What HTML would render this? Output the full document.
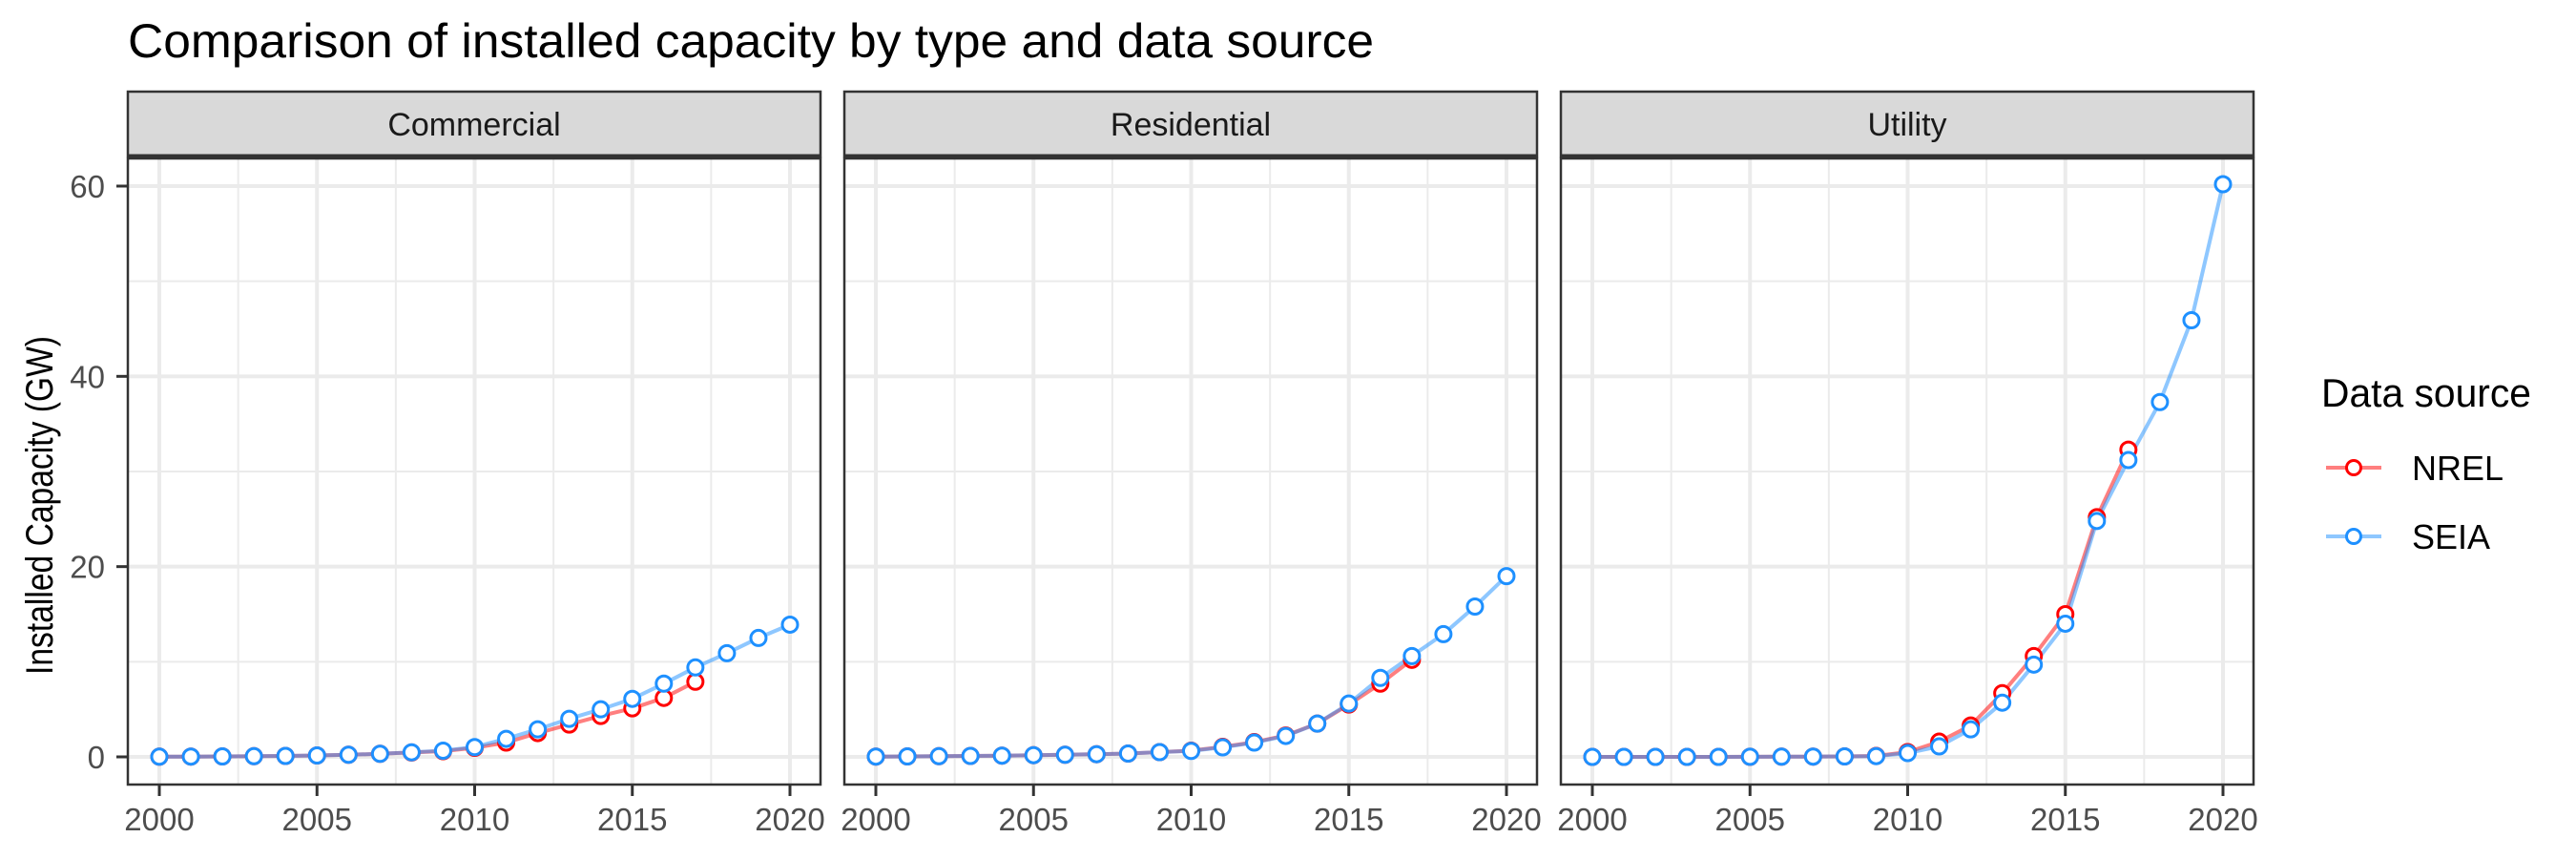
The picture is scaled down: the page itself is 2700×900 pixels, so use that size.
<!DOCTYPE html>
<html><head><meta charset="utf-8"><style>
html,body{margin:0;padding:0;background:#fff;}
svg{display:block;font-family:"Liberation Sans",sans-serif;}
</style></head><body>
<svg id="chart" width="2700" height="900" viewBox="0 0 2700 900" xmlns="http://www.w3.org/2000/svg">
<text x="134" y="60" font-size="50" fill="#000" textLength="1306" lengthAdjust="spacingAndGlyphs">Comparison of installed capacity by type and data source</text>
<text transform="translate(55,707) rotate(-90)" font-size="40" fill="#000" textLength="355" lengthAdjust="spacingAndGlyphs">Installed Capacity (GW)</text>
<g id="panels"></g>
<g>
<text x="2433" y="426" font-size="42" fill="#000" textLength="220" lengthAdjust="spacingAndGlyphs">Data source</text>
<g>
<line x1="2438" y1="490" x2="2496" y2="490" stroke="#ff0000" stroke-opacity="0.5" stroke-width="4"/>
<circle cx="2467" cy="490" r="7.5" fill="#fff" stroke="#ff0000" stroke-width="3"/>
<text x="2528" y="503" font-size="36" fill="#000">NREL</text>
</g>
<g>
<line x1="2438" y1="562" x2="2496" y2="562" stroke="#1e90ff" stroke-opacity="0.5" stroke-width="4"/>
<circle cx="2467" cy="562" r="7.5" fill="#fff" stroke="#1e90ff" stroke-width="3"/>
<text x="2528" y="575" font-size="36" fill="#000">SEIA</text>
</g>
</g>
</svg>
<script>
const facets = ["Commercial", "Residential", "Utility"];
const yearsSEIA = [2000,2001,2002,2003,2004,2005,2006,2007,2008,2009,2010,2011,2012,2013,2014,2015,2016,2017,2018,2019,2020];
const yearsNREL = [2000,2001,2002,2003,2004,2005,2006,2007,2008,2009,2010,2011,2012,2013,2014,2015,2016,2017];
const commercialSEIA = [0.02,0.03,0.05,0.07,0.1,0.15,0.22,0.32,0.48,0.65,1.03,1.9,2.9,4.0,5.0,6.1,7.7,9.4,10.9,12.5,13.9];
const commercialNREL = [0.02,0.03,0.05,0.07,0.1,0.15,0.22,0.32,0.46,0.6,0.95,1.5,2.5,3.4,4.3,5.1,6.2,7.9];
const residentialSEIA = [0.03,0.05,0.07,0.1,0.13,0.18,0.22,0.28,0.35,0.5,0.63,1.0,1.5,2.2,3.5,5.6,8.3,10.6,12.9,15.8,19.0];
const residentialNREL = [0.03,0.05,0.07,0.1,0.13,0.18,0.22,0.28,0.35,0.5,0.65,1.05,1.55,2.25,3.5,5.5,7.7,10.2];
const utilitySEIA = [0.0,0.0,0.0,0.0,0.0,0.01,0.02,0.03,0.05,0.08,0.4,1.1,2.9,5.7,9.7,14.0,24.8,31.2,37.3,45.9,60.2];
const utilityNREL = [0.0,0.0,0.0,0.0,0.0,0.01,0.02,0.03,0.05,0.1,0.5,1.6,3.3,6.7,10.6,15.0,25.2,32.3];
const xTicks = [2000,2005,2010,2015,2020];
const xMinor = [2002.5,2007.5,2012.5,2017.5];
const yTicks = [0,20,40,60];
const yMinor = [10,30,50];

const NS = "http://www.w3.org/2000/svg";
const P = {w:726, gap:25, left0:134, top:166, bottom:822, stripTop:96};
function xs(panel, yr){ return P.left0 + panel*(P.w+P.gap) + 33 + (yr-2000)*33.05; }
function ys(v){ return 793 - v*9.967; }
function mk(tag, attrs, parent){ const e=document.createElementNS(NS,tag); for(const k in attrs) e.setAttribute(k, attrs[k]); parent.appendChild(e); return e; }
const root = document.getElementById("panels");
const series = [[commercialNREL, commercialSEIA],[residentialNREL, residentialSEIA],[utilityNREL, utilitySEIA]];

facets.forEach((name, i) => {
  const L = P.left0 + i*(P.w+P.gap), R = L + P.w;
  const g = mk("g", {}, root);
  
  
  mk("rect", {x:L, y:P.top, width:P.w, height:P.bottom-P.top, fill:"#fff"}, g);
  yMinor.forEach(v => mk("line", {x1:L, x2:R, y1:ys(v), y2:ys(v), stroke:"#ebebeb", "stroke-width":2}, g));
  xMinor.forEach(v => mk("line", {x1:xs(i,v), x2:xs(i,v), y1:P.top, y2:P.bottom, stroke:"#ebebeb", "stroke-width":2}, g));
  yTicks.forEach(v => mk("line", {x1:L, x2:R, y1:ys(v), y2:ys(v), stroke:"#ebebeb", "stroke-width":4}, g));
  xTicks.forEach(v => mk("line", {x1:xs(i,v), x2:xs(i,v), y1:P.top, y2:P.bottom, stroke:"#ebebeb", "stroke-width":4}, g));
  const years = [yearsNREL, yearsSEIA];
  const cols = ["#ff0000", "#1e90ff"];
  [0,1].forEach(s => {
    const d = series[i][s].map((v,k) => (k?"L":"M") + xs(i, years[s][k]).toFixed(1) + "," + ys(v).toFixed(1)).join("");
    const ln = mk("path", {d:d, fill:"none", stroke:cols[s], "stroke-opacity":0.5, "stroke-width":4, "stroke-linejoin":"round"}, g);
    
    
  });
  [0,1].forEach(s => {
    series[i][s].forEach((v,k) => {
      const c = mk("circle", {cx:xs(i, years[s][k]), cy:ys(v), r:8, fill:"#fff", stroke:cols[s], "stroke-width":3}, g);
      
      
    });
  });
  mk("rect", {x:L, y:P.top, width:P.w, height:P.bottom-P.top, fill:"none", stroke:"#333", "stroke-width":2.5}, g);
  const st = mk("rect", {x:L, y:P.stripTop, width:P.w, height:P.top-P.stripTop-2, fill:"#d9d9d9", stroke:"#333", "stroke-width":2.5}, g);
  
  
  mk("line", {x1:L, x2:R, y1:P.top-2, y2:P.top-2, stroke:"#333", "stroke-width":5}, g);
  const tl = mk("text", {x:(L+R)/2, y:142, "font-size":34, fill:"#1a1a1a", "text-anchor":"middle"}, g);
  tl.textContent = name;
  
  
  xTicks.forEach(v => {
    mk("line", {x1:xs(i,v), x2:xs(i,v), y1:P.bottom, y2:P.bottom+12, stroke:"#333", "stroke-width":3}, g);
    const t = mk("text", {x:xs(i,v), y:870, "font-size":33, fill:"#4d4d4d", "text-anchor":"middle"}, g);
    t.textContent = v;
    
    
  });
  if (i === 0) {
    yTicks.forEach(v => {
      mk("line", {x1:L-12, x2:L, y1:ys(v), y2:ys(v), stroke:"#333", "stroke-width":3}, g);
      const t = mk("text", {x:L-24, y:ys(v)+12, "font-size":33, fill:"#4d4d4d", "text-anchor":"end"}, g);
      t.textContent = v;
      
      
    });
  }
});
</script>
</body></html>
